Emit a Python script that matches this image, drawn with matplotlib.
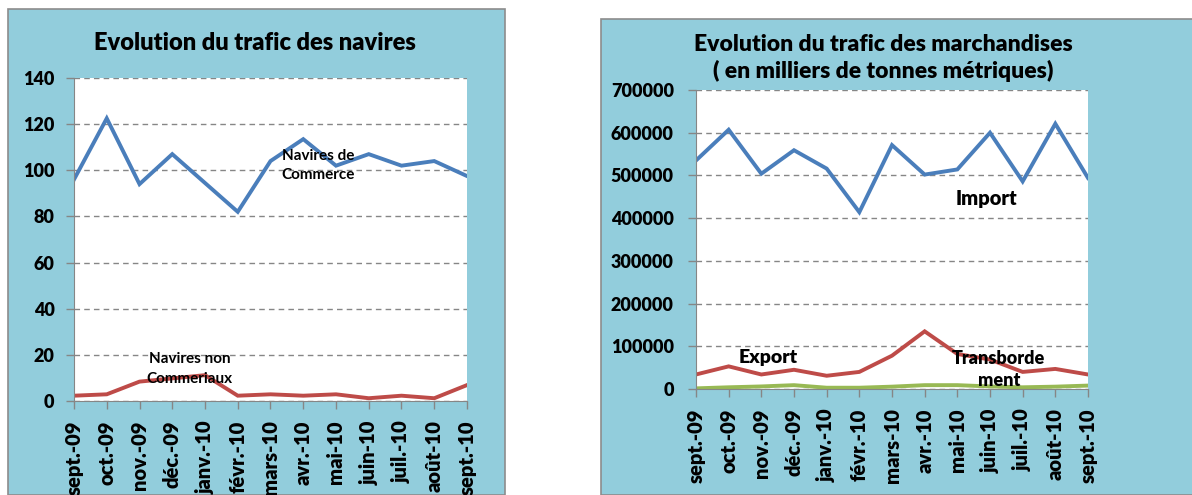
import matplotlib
matplotlib.use("Agg")
import matplotlib.pyplot as plt
from matplotlib.patches import Rectangle

plt.rcParams['font.family'] = ['Lato', 'DejaVu Sans']

mois = ["sept.-09", "oct.-09", "nov.-09", "déc.-09", "janv.-10", "févr.-10",
        "mars-10", "avr.-10", "mai-10", "juin-10", "juil.-10", "août-10", "sept.-10"]

# navires
navires_commerce = [96, 122.5, 94, 107, 94.5, 82, 104, 113.5, 102, 107, 102, 104, 97.5]
navires_non_comm = [2.3, 2.9, 8.4, 9.8, 11.2, 2.3, 2.9, 2.3, 2.9, 1.2, 2.3, 1.2, 6.9]

# marchandises (milliers de tonnes)
imports = [535000, 607000, 504000, 559000, 516000, 414000, 571000, 502000,
           514000, 600000, 486000, 621000, 494000]
exports = [34000, 53000, 34000, 45000, 31000, 40000, 78000, 135000,
           82000, 69000, 40000, 47000, 34000]
transbord = [1500, 4000, 6000, 9000, 3000, 3000, 5500, 9000,
             9000, 6000, 4000, 5500, 8000]

BLEU = "#4A7EBB"
ROUGE = "#BE4B48"
VERT = "#98B954"
FOND = "#92CDDC"
GRIS = "#868686"

W, H = 1192, 495
fig = plt.figure(figsize=(W / 100, H / 100), dpi=100)
fig.patch.set_facecolor("white")

# cadres bleus (derriere les axes)
fig.patches.append(Rectangle((8 / W, 0), 497 / W, 1 - 9 / H, transform=fig.transFigure,
                             facecolor=FOND, edgecolor="#8c8c8c", lw=1.2, zorder=-10))
fig.patches.append(Rectangle((601 / W, 0), 600 / W, 1 - 19 / H, transform=fig.transFigure,
                             facecolor=FOND, edgecolor="#8c8c8c", lw=1.2, zorder=-10))


def style_ax(ax, ymax, step, ypad):
    x = range(len(mois))
    ax.set_facecolor("white")
    ax.set_xlim(0, len(mois) - 1)
    ax.set_ylim(0, ymax)
    ax.set_yticks(range(0, ymax + 1, step))
    ax.set_xticks(list(x))
    ax.set_xticklabels(mois, rotation=90, fontsize=14.5, fontweight="heavy")
    for lab in ax.get_yticklabels():
        lab.set_fontweight("heavy")
        lab.set_fontsize(13)
    ax.tick_params(axis="both", colors=GRIS, labelcolor="black", length=6, width=1)
    ax.tick_params(axis="y", pad=ypad)
    ax.tick_params(axis="x", pad=8)
    for s in ["top", "right"]:
        ax.spines[s].set_visible(False)
    for s in ["left", "bottom"]:
        ax.spines[s].set_color(GRIS)
    ax.grid(axis="y", color=GRIS, ls=(0, (4, 3)), lw=1)
    ax.set_axisbelow(True)
    return x


# graphique 1 : navires
ax1 = fig.add_axes([74 / W, 1 - 401 / H, 393 / W, 323 / H])
x = style_ax(ax1, 140, 20, 8)
ax1.plot(x, navires_commerce, color=BLEU, lw=2.8, solid_joinstyle="miter")
ax1.plot(x, navires_non_comm, color=ROUGE, lw=2.8, solid_joinstyle="miter")
ax1.text(7.45, 102, "Navires de\nCommerce", ha="center", va="center",
         fontsize=11, fontweight="bold", linespacing=1.5)
ax1.text(3.54, 13.9, "Navires non\nCommeriaux", ha="center", va="center",
         fontsize=11, fontweight="bold", linespacing=1.5)
fig.text(255 / W, 1 - 43 / H, "Evolution du trafic des navires", ha="center",
         va="center", fontsize=17, fontweight="heavy")

# graphique 2 : marchandises
ax2 = fig.add_axes([696 / W, 1 - 389 / H, 392 / W, 299 / H])
x = style_ax(ax2, 700000, 100000, 10)
ax2.plot(x, imports, color=BLEU, lw=2.8, solid_joinstyle="miter")
ax2.plot(x, exports, color=ROUGE, lw=2.8, solid_joinstyle="miter")
ax2.plot(x, transbord, color=VERT, lw=2.8, solid_joinstyle="miter")
ax2.text(8.9, 447000, "Import", ha="center", va="center", fontsize=14.5, fontweight="heavy")
ax2.text(2.2, 72600, "Export", ha="center", va="center", fontsize=14, fontweight="heavy")
ax2.text(9.27, 45600, "Transborde\nment", ha="center", va="center",
         fontsize=13, fontweight="heavy", linespacing=1.4)
fig.text(883 / W, 1 - 58 / H,
         "Evolution du trafic des marchandises\n( en milliers de tonnes métriques)",
         ha="center", va="center", fontsize=16.5, fontweight="heavy", linespacing=1.25)

fig.savefig("out.png", dpi=100)
